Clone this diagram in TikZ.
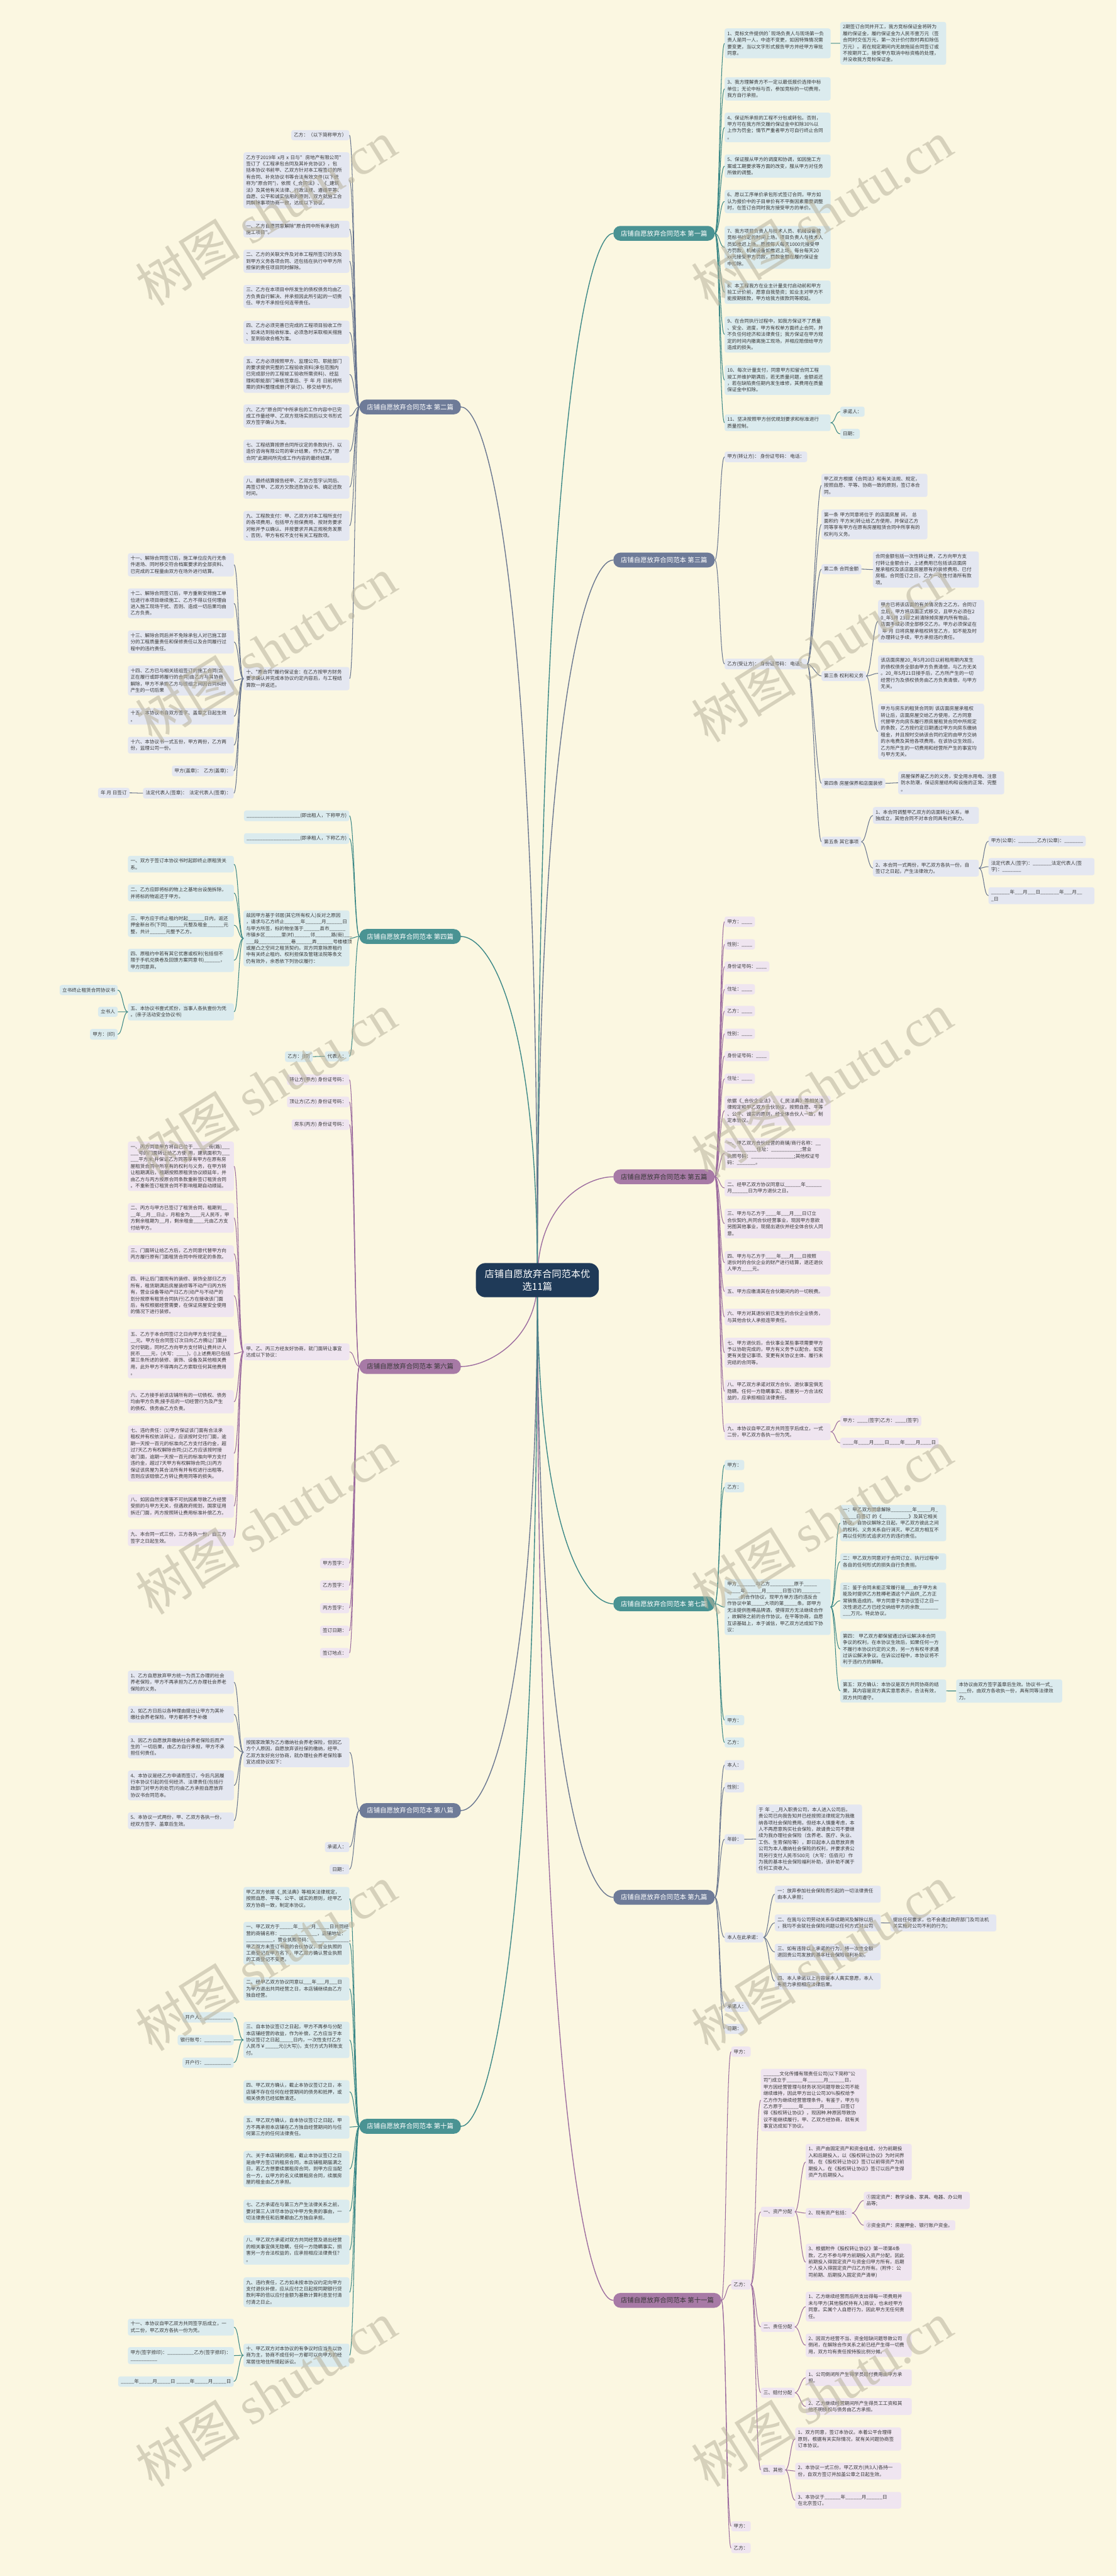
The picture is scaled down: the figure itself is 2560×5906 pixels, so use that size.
\documentclass[tikz,border=0pt]{standalone}
\usepackage{fontspec}
\newfontfamily\cjk{Noto Sans CJK SC}
\newfontfamily\wmserif{Liberation Serif}
\newcommand\lff{\cjk\fontsize{11}{15}\selectfont}
\newcommand\brf{\cjk\fontsize{15}{18}\selectfont}
\newcommand\cef{\cjk\fontsize{22}{30}\selectfont}
\newcommand\wmf{\cjk\fontsize{120}{120}\selectfont}
\definecolor{bg}{HTML}{FBF7E1}
\definecolor{sF}{HTML}{E4E7F1}\definecolor{sL}{HTML}{68758F}\definecolor{sN}{HTML}{6E7B98}
\definecolor{tF}{HTML}{DBEBEE}\definecolor{tL}{HTML}{3A8786}\definecolor{tN}{HTML}{4A9393}
\definecolor{pF}{HTML}{EFE5F0}\definecolor{pL}{HTML}{9C6C9F}\definecolor{pN}{HTML}{A77AA6}
\definecolor{cN}{HTML}{1F3A58}\definecolor{txt}{HTML}{383838}\definecolor{wmc}{HTML}{B8B29C}
\newcommand\conr[3]{\draw[#1] (#2.east) .. controls ([xshift=11pt]#2.east) and ([xshift=-11pt]#3.west) .. (#3.west);}
\newcommand\conl[3]{\draw[#1] (#2.west) .. controls ([xshift=-11pt]#2.west) and ([xshift=11pt]#3.east) .. (#3.east);}
\catcode`\_=12
\tikzset{
 lf/.style={font=\lff, text=txt, align=left, inner xsep=6pt, inner ysep=6.5pt, rounded corners=5pt, anchor=north west},
 S/.style={lf, fill=sF}, T/.style={lf, fill=tF}, P/.style={lf, fill=pF},
 w/.style={text width=231pt},
 ne/.style={anchor=north east},
 cs/.style={draw=sL, line width=1.5pt}, ct/.style={draw=tL, line width=1.5pt}, cp/.style={draw=pL, line width=1.5pt},
 brn/.style={font=\brf, text=white, anchor=west, rounded corners=16pt, minimum height=34pt, inner xsep=17pt, inner ysep=4pt},
 cc/.style={line width=2pt},
 wm/.style={font=\wmf, text=wmc, text opacity=0.55, rotate=32, anchor=base west, inner sep=0pt},
}
\begin{document}
\begin{tikzpicture}[x=1pt,y=-1pt]
\fill[bg] (0,0) rectangle (2560,5906);
\useasboundingbox (0,0) rectangle (2560,5906);
% branch nodes
\node[brn, fill=tN] (b1) at (1406,535) {店铺自愿放弃合同范本 第一篇};
\node[brn, fill=sN] (b3) at (1406,1284) {店铺自愿放弃合同范本 第三篇};
\node[brn, fill=pN, text=txt] (b5) at (1406,2698) {店铺自愿放弃合同范本 第五篇};
\node[brn, fill=tN] (b7) at (1406,3677) {店铺自愿放弃合同范本 第七篇};
\node[brn, fill=sN] (b9) at (1406,4350) {店铺自愿放弃合同范本 第九篇};
\node[brn, fill=pN, text=txt] (b11) at (1406,5274) {店铺自愿放弃合同范本 第十一篇};
\node[brn, fill=sN] (b2) at (824,933) {店铺自愿放弃合同范本 第二篇};
\node[brn, fill=tN] (b4) at (824,2147) {店铺自愿放弃合同范本 第四篇};
\node[brn, fill=pN, text=txt] (b6) at (824,3133) {店铺自愿放弃合同范本 第六篇};
\node[brn, fill=sN] (b8) at (824,4151) {店铺自愿放弃合同范本 第八篇};
\node[brn, fill=tN] (b10) at (824,4875) {店铺自愿放弃合同范本 第十篇};
% center connectors
\coordinate (cc0) at (1232,2935);
\foreach \b/\col/\py in {b1/tL/1015,b3/sL/1614,b5/pL/2757,b7/tL/3529,b9/sL/4067,b11/pL/4806}{
 \draw[cc, draw=\col] (cc0) .. controls (1232,\py) and ([xshift=-60pt]\b.west) .. (\b.west);}
\foreach \b/\col/\py in {b2/sL/1333,b4/tL/2305,b6/pL/3073,b8/sL/3908,b10/tL/4487}{
 \draw[cc, draw=\col] (cc0) .. controls (1232,\py) and ([xshift=60pt]\b.east) .. (\b.east);}
% center
\node[fill=cN, text=white, font=\cef, align=center, rounded corners=22pt, inner xsep=20pt, inner ysep=14pt] (c) at (cc0) {店铺自愿放弃合同范本优\\选11篇};
%%%%%%%%%%%%%%%% Branch 1
\node[T,w] (A1) at (1661,65) {1、竞标文件提供的`现场负责人与现场第一负\\责人是同一人，中途不变更，如因特殊情况需\\要变更，当以文字形式报告甲方并经甲方审批\\同意。};
\node[T,w] (A1a) at (1926,50) {2期签订合同并开工，我方竞标保证金将转为\\履约保证金，履约保证金为人民币壹万元（签\\合同时交伍万元，第一次计价付款时再扣除伍\\万元）。若在规定期间内无故拖延合同签订或\\不按期开工，接受甲方取消中标资格的处理，\\并没收我方竞标保证金。};
\node[T,w] (A2) at (1661,177) {3、我方理解贵方不一定以最低报价选择中标\\单位；无论中标与否，参加竞标的一切费用，\\我方自行承担。};
\node[T,w] (A3) at (1661,258) {4、保证所承担的工程不分包或转包。否则，\\甲方可在我方所交履约保证金中扣除30\%以\\上作为罚金；情节严重者甲方可自行终止合同\\。};
\node[T,w] (A4) at (1661,354) {5、保证服从甲方的调度和协调，如因施工方\\案或工期要求等方面的改变，服从甲方对任务\\所做的调整。};
\node[T,w] (A5) at (1661,435) {6、愿以工序单价承包形式签订合同，甲方如\\认为报价中的子目单价有不平衡因素需要调整\\时，在签订合同时我方接受甲方的单价。};
\node[T,w] (A6) at (1661,518) {7、我方项目负责人与技术人员、机械设备按\\竞标书约定的时间上场。项目负责人与技术人\\员如推迟上场，愿按每人每天1000元接受甲\\方罚款，机械设备如推迟上场，每台每天20\\xx元接受甲方罚款，罚款金额在履约保证金\\中扣除。};
\node[T,w] (A7) at (1661,643) {8、本工程我方在业主计量支付启动前和甲方\\验工计价前，愿意自我垫资；如业主对甲方不\\能按期拨款，甲方给我方拨款同等顺延。};
\node[T,w] (A8) at (1661,725) {9、在合同执行过程中，如我方保证不了质量\\、安全、进度，甲方有权单方面终止合同，并\\不负任何经济和法律责任；我方保证在甲方规\\定的时间内撤离施工现场，并相应赔偿给甲方\\造成的损失。};
\node[T,w] (A9) at (1661,837) {10、每次计量支付，同意甲方扣留合同工程\\竣工并维护期满后，若无质量问题，金额返还\\，若在缺陷责任期内发生维修，其费用在质量\\保证金中扣除。};
\node[T,w] (A10) at (1661,950) {11、坚决按照甲方创优规划要求和标准进行\\质量控制。};
\node[T] (A10a) at (1926,932) {承诺人：};
\node[T] (A10b) at (1926,983) {日期：};
\foreach \n in {A1,A2,A3,A4,A5,A6,A7,A8,A9,A10}{\conr{ct}{b1}{\n}}
\conr{ct}{A1}{A1a}\conr{ct}{A10}{A10a}\conr{ct}{A10}{A10b}
%%%%%%%%%%%%%%%% Branch 3
\node[S] (C1) at (1661,1035) {甲方(转让方)：\ 身份证号码：\ 电话：};
\node[S] (C2) at (1661,1510) {乙方(受让方)：\ 身份证号码：\ 电话：};
\node[S,w] (C2a) at (1883,1086) {甲乙双方根据《合同法》和有关法规、规定，\\按照自愿、平等、协商一致的原则，签订本合\\同。};
\node[S,w] (C2b) at (1883,1168) {第一条 甲方同意将位于 的店面房屋 间， 总\\面积约 平方米)转让给乙方使用，并保证乙方\\同等享有甲方在原有房屋租赁合同中所享有的\\权利与义务。};
\node[S] (C2c) at (1883,1293) {第二条 合同金额};
\node[S,w] (C2c1) at (2001,1264) {合同金额包括一次性转让费，乙方向甲方支\\付转让金额合计，上述费用已包括该店面房\\屋承租权及该店面房屋原有的装修费用、已付\\房租。合同签订之日，乙方一次性付清所有款\\项。};
\node[S] (C2d) at (1883,1538) {第三条 权利和义务};
\node[S,w] (C2d1) at (2013,1375) {甲方已将该店面的有关情况告之乙方。合同订\\立后，甲方将店面正式移交，且甲方必须在2\\0_年5月 23日之前清除掉房屋内所有物品，\\店面手续必须全部移交乙方。甲方必须保证在\\\ 年 月 日将房屋承租权转至乙方，如不能及时\\办理转让手续，甲方承担违约责任。};
\node[S,w] (C2d2) at (2013,1502) {该店面房屋20_年5月20日以前租用期内发生\\的债权债务全部由甲方负责清偿，与乙方无关\\。20_年5月21日接手后，乙方所产生的一切\\经营行为及债权债务由乙方负责清偿，与甲方\\无关。};
\node[S,w] (C2d3) at (2013,1613) {甲方与房东的租赁合同到 该店面房屋承租权\\转让后，店面房屋交给乙方使用，乙方同意\\代替甲方向房东履行原房屋租赁合同中所规定\\的条款，乙方按约定日期通过甲方向房东缴纳\\租金，并且按时交纳该合同约定的由甲方交纳\\的水电费及其他各项费用。在该协议生效后，\\乙方所产生的一切费用和经营所产生的事宜均\\与甲方无关。};
\node[S] (C2e) at (1883,1784) {第四条 房屋保养和店面装修};
\node[S,w] (C2e1) at (2059,1768) {房屋保养是乙方的义务，安全用水用电、注意\\防水防潮，保证房屋结构和设施的正常、完整\\。};
\node[S] (C2f) at (1883,1918) {第五条 其它事项};
\node[S,w] (C2f1) at (2001,1850) {1、本合同调整甲乙双方的店面转让关系，单\\独成立，其他合同不对本合同具有约束力。};
\node[S,w] (C2f2) at (2001,1971) {2、本合同一式两份，甲乙双方各执一份，自\\签订之日起，产生法律效力。};
\node[S] (C2f2a) at (2266,1916) {甲方(公章)：_______乙方(公章)：_______};
\node[S,w] (C2f2b) at (2266,1967) {法定代表人(签字)：_______法定代表人(签\\字)：_______};
\node[S,w] (C2f2c) at (2266,2034) {_______年___月___日_______年___月__\\_日};
\conr{cs}{b3}{C1}\conr{cs}{b3}{C2}
\foreach \n in {C2a,C2b,C2c,C2d,C2e,C2f}{\conr{cs}{C2}{\n}}
\conr{cs}{C2c}{C2c1}\conr{cs}{C2d}{C2d1}\conr{cs}{C2d}{C2d2}\conr{cs}{C2d}{C2d3}
\conr{cs}{C2e}{C2e1}\conr{cs}{C2f}{C2f1}\conr{cs}{C2f}{C2f2}
\conr{cs}{C2f2}{C2f2a}\conr{cs}{C2f2}{C2f2b}\conr{cs}{C2f2}{C2f2c}
%%%%%%%%%%%%%%%% Branch 5
\node[P] (E1) at (1661,2101) {甲方：____};
\node[P] (E2) at (1661,2153) {性别：____};
\node[P] (E3) at (1661,2204) {身份证号码：____};
\node[P] (E4) at (1661,2256) {住址：____};
\node[P] (E5) at (1661,2306) {乙方：____};
\node[P] (E6) at (1661,2358) {性别：____};
\node[P] (E7) at (1661,2409) {身份证号码：____};
\node[P] (E8) at (1661,2461) {住址：____};
\node[P,w] (E9) at (1661,2512) {依据《_合伙企业法》、《_民法典》等相关法\\律规定和甲乙双方合伙协议，按照自愿、平等\\、公平、诚实的原则，经全体合伙人一致，制\\定本协议。};
\node[P,w] (E10) at (1661,2609) {一、甲乙双方合伙经营的商铺/商行名称：__\\___________住址：___________;营业\\执照号码：________________;其他权证号\\码：_______。};
\node[P,w] (E11) at (1661,2704) {二、经甲乙双方协议同意以______年______\\月______日为甲方退伙之日。};
\node[P,w] (E12) at (1661,2771) {三、甲方与乙方于____年___月___日订立\\合伙契约,共同合伙经营事业，现因甲方意欲\\另图其他事业，现提出退伙并经全体合伙人同\\意。};
\node[P,w] (E13) at (1661,2868) {四、甲方与乙方于____年___月___日按照\\退伙时的合伙企业的财产进行结算，退还退伙\\人甲方____元。};
\node[P,w] (E14) at (1661,2949) {五、甲方应缴清其在合伙期间内的一切税费。};
\node[P,w] (E15) at (1661,3000) {六、甲方对其退伙前已发生的合伙企业债务，\\与其他合伙人承担连带责任。};
\node[P,w] (E16) at (1661,3067) {七、甲方退伙后，合伙事业某些事项需要甲方\\予以协助完成的，甲方有义务予以配合，如变\\更有关登记事项、变更有关协议主体、履行未\\完结的合同等。};
\node[P,w] (E17) at (1661,3163) {八、甲乙双方承诺对双方合伙、退伙事宜俱无\\隐瞒。任何一方隐瞒事实，损害另一方合法权\\益的，应承担相应法律责任。};
\node[P,w] (E18) at (1661,3263) {九、本协议自甲乙双方共同签字后成立，一式\\二份，甲乙双方各执一份为凭。};
\node[P] (E18a) at (1926,3245) {甲方：____(签字)乙方：____(签字)};
\node[P] (E18b) at (1926,3296) {____年____月____日____年____月____日};
\foreach \n in {E1,E2,E3,E4,E5,E6,E7,E8,E9,E10,E11,E12,E13,E14,E15,E16,E17,E18}{\conr{cp}{b5}{\n}}
\conr{cp}{E18}{E18a}\conr{cp}{E18}{E18b}
%%%%%%%%%%%%%%%% Branch 7
\node[T] (G1) at (1661,3347) {甲方：};
\node[T] (G2) at (1661,3398) {乙方：};
\node[T,w] (G3) at (1661,3620) {甲方_______与乙方_________原于_____\\_____年______月______日签订的_______\\_____的合作协议，现甲方单方违约违反合\\作协议中第_____大项的第_____条。即甲方\\无法提供胜樽品牌酒，使得双方无法继续合作\\，故解除之前的合作协议。在平等协商，自愿\\互谅基础上，本于诚信，甲乙双方达成如下协\\议：};
\node[T,w] (G3a) at (1926,3450) {一：甲乙双方同意解除________年_____月_\\_____日签订 的《__________》及其它相关\\协议。自协议解除之日起，甲乙双方彼此之间\\的权利、义务关系自行消灭。甲乙双方相互不\\再以任何形式追求对方的违约责任。};
\node[T,w] (G3b) at (1926,3561) {二：甲乙双方同意对于合同订立、执行过程中\\各自的任何形式的损失自行负责担。};
\node[T,w] (G3c) at (1926,3628) {三：鉴于合同未能正常履行是___由于甲方未\\能及时提供乙方胜樽老酒这个产品供_乙方正\\常销售造成的。甲方同意于本协议签订之日一\\次性退还乙方已经交纳给甲方的余款_______\\___万元。特此协议。};
\node[T,w] (G3d) at (1926,3739) {第四： 甲乙双方都保留通过诉讼解决本合同\\争议的权利，在本协议生效后，如果任何一方\\不履行本协议约定的义务，另一方有权寻求通\\过诉讼解决争议。在诉讼过程中，本协议将不\\利于违约方的解释。};
\node[T,w] (G3e) at (1926,3850) {第五：双方确认：本协议是双方共同协商的结\\果，其内容是双方真实意思表示，合法有效，\\双方共同遵守。};
\node[T,w] (G3e1) at (2192,3850) {本协议由双方签字盖章后生效。协议书一式_\\___份，由双方各收执一份，具有同等法律效\\力。};
\node[T] (G4) at (1661,3932) {甲方：};
\node[T] (G5) at (1661,3983) {乙方：};
\foreach \n in {G1,G2,G3,G4,G5}{\conr{ct}{b7}{\n}}
\foreach \n in {G3a,G3b,G3c,G3d,G3e}{\conr{ct}{G3}{\n}}
\conr{ct}{G3e}{G3e1}
%%%%%%%%%%%%%%%% Branch 9
\node[S] (I1) at (1661,4035) {本人：};
\node[S] (I2) at (1661,4086) {性别：};
\node[S] (I3) at (1661,4205) {年龄：};
\node[S,w] (I3a) at (1733,4137) {于 年 _ _月入职贵公司，本人进入公司后，\\贵公司已向我告知并已经按照法律规定为我缴\\纳各项社会保险费用。但经本人慎重考虑，本\\人不再愿意购买社会保险，故请贵公司不要继\\续为我办理社会保险（含养老、医疗、失业、\\工伤、生育保险等），即日起本人自愿放弃贵\\公司为本人缴纳社会保险的权利，并要求贵公\\司另行支付人民币500元（大写：伍佰元）作\\为我的基本社会保险福利补助，该补助不属于\\任何工资收入。};
\node[S] (I4) at (1661,4430) {本人在此承诺：};
\node[S,w] (I4a) at (1776,4323) {一：放弃参加社会保险而引起的一切法律责任\\由本人承担；};
\node[S,w] (I4b) at (1776,4389) {二、在我与公司劳动关系存续期间及解除以后\\，我均不会就社会保险问题以任何方式对公司};
\node[S,w] (I4b1) at (2041,4389) {提出任何要求，也不会通过政府部门及司法机\\关实施对公司不利的行为；};
\node[S,w] (I4c) at (1776,4456) {三、如有违背以上承诺的行为，将一次性全额\\退回贵公司发放的基本社会保险福利补助。};
\node[S,w] (I4d) at (1776,4523) {四、本人承诺以上内容是本人真实意愿，本人\\有能力承担相应法律后果。};
\node[S] (I5) at (1661,4589) {承诺人：};
\node[S] (I6) at (1661,4640) {日期：};
\foreach \n in {I1,I2,I3,I4,I5,I6}{\conr{cs}{b9}{\n}}
\conr{cs}{I3}{I3a}
\foreach \n in {I4a,I4b,I4c,I4d}{\conr{cs}{I4}{\n}}
\conr{cs}{I4b}{I4b1}
%%%%%%%%%%%%%%%% Branch 11
\node[P] (K1) at (1676,4692) {甲方：};
\node[P] (K2) at (1676,5226) {乙方：};
\node[P,w] (K2a) at (1744,4743) {______文化传播有限责任公司(以下简称"公\\司")成立于______年______月______日，\\甲方因经营管理与财务状况问题导致公司不能\\继续维持，因此甲方出让公司30\%股权给予\\乙方作为继续经营管理条件。有鉴于，甲方与\\乙方原于______年______月______日签订\\得《股权转让协议》，现因种.种原因导致协\\议不能继续履行，甲、乙双方经协商，就有关\\事宜达成如下协议。};
\node[P] (K2b) at (1744,5059) {一、资产分配};
\node[P,w] (K2b1) at (1847,4915) {1、资产由固定资产和资金组成，分为前期投\\入和后期投入，以《股权转让协议》为时间界\\限，在《股权转让协议》签订以前得资产为前\\期投入，在《股权转让协议》签订以后产生得\\资产为后期投入。};
\node[P] (K2b2) at (1847,5062) {2、现有资产包括：};
\node[P,w] (K2b2a) at (1980,5025) {①固定资产：教学设备、家具、电器、办公用\\品等;};
\node[P] (K2b2b) at (1980,5090) {②资金资产：房屋押金、银行账户资金。};
\node[P,w] (K2b3) at (1847,5144) {3、根据附件《股权转让协议》第一项第4条\\款，乙方不参与甲方前期投入资产分配，因此\\前期投入得固定资产与资金归甲方所有，后期\\个人投入得固定资产归乙方所有。(附件：公\\司前期、后期投入固定资产清单)};
\node[P] (K2c) at (1744,5323) {二、责任分配};
\node[P,w] (K2c1) at (1847,5254) {1、乙方继续经营而后所支出得每一项费用并\\未与甲方(其他股权持有人)商议，也未经甲方\\同意。实属个人自愿行为，因此甲方无任何责\\任。};
\node[P,w] (K2c2) at (1847,5350) {2、因双方经营不当、资金短缺问题导致公司\\倒闭，在解除合作关系之前已经产生得一切费\\用，双方均有责任按持股比例分摊。};
\node[P] (K2d) at (1744,5474) {三、赔付分配};
\node[P,w] (K2d1) at (1847,5432) {1、公司倒闭所产生得学员赔付费用由甲方承\\担。};
\node[P,w] (K2d2) at (1847,5498) {2、乙方继续经营期间所产生得员工工资和其\\他不明债权与债务由乙方承担。};
\node[P] (K2e) at (1744,5651) {四、其他};
\node[P,w] (K2e1) at (1823,5565) {1、双方同意，签订本协议。本着公平合理得\\原则，根据有关实际情况，就有关问题协商签\\订本协议。};
\node[P,w] (K2e2) at (1823,5646) {2、本协议一式三份，甲乙双方(共3人)各持一\\份，自双方签订并加盖公章之日起生效。};
\node[P,w] (K2e3) at (1823,5713) {3、本协议于______年______月______日\\在北京签订。};
\node[P] (K3) at (1676,5780) {甲方：};
\node[P] (K4) at (1676,5830) {乙方：};
\foreach \n in {K1,K2,K3,K4}{\conr{cp}{b11}{\n}}
\foreach \n in {K2a,K2b,K2c,K2d,K2e}{\conr{cp}{K2}{\n}}
\foreach \n in {K2b1,K2b2,K2b3}{\conr{cp}{K2b}{\n}}
\conr{cp}{K2b2}{K2b2a}\conr{cp}{K2b2}{K2b2b}
\conr{cp}{K2c}{K2c1}\conr{cp}{K2c}{K2c2}
\conr{cp}{K2d}{K2d1}\conr{cp}{K2d}{K2d2}
\foreach \n in {K2e1,K2e2,K2e3}{\conr{cp}{K2e}{\n}}
%%%%%%%%%%%%%%%% Branch 2 (left)
\node[S,ne] (B1) at (801,298) {乙方：（以下简称甲方）};
\node[S,w] (B2) at (558,349) {乙方于2019年 x月 x 日与"\ \ 房地产有限公司"\\签订了《工程承包合同及其补充协议》，包\\括本协议书前甲、乙双方针对本工程签订的所\\有合同、补充协议书等合法有效文件(以下统\\称为"原合同")，依照《_合同法》、《_建筑\\法》及其他有关法律、行政法规、遵循平等、\\自愿、公平和诚实信用的原则，双方就施工合\\同解除事项协商一致，达成以下协议。};
\node[S,w] (B3) at (558,506) {一、乙方自愿同意解除"原合同中所有承包的\\施工项目"。};
\node[S,w] (B4) at (558,572) {二、乙方的关联文件及对本工程所签订的涉及\\到甲方义务各项合同、还包括在执行中甲方所\\担保的责任项目同时解除。};
\node[S,w] (B5) at (558,653) {三、乙方在本项目中所发生的债权债务均由乙\\方负责自行解决、并承担因此所引起的一切责\\任、甲方不承担任何连带责任。};
\node[S,w] (B6) at (558,735) {四、乙方必须完善已完成的工程项目验收工作\\、如未达到验收标准、必须急时采取相关措施\\、至到验收合格为准。};
\node[S,w] (B7) at (558,816) {五、乙方必须按照甲方、监理公司、职能部门\\的要求提供完整的工程验收资料(承包范围内\\已完成部分的工程竣工验收所需资料)、经监\\理和职能部门审核签章后、于 年 月 日前将所\\需的资料整理成册(不装订)、移交给甲方。};
\node[S,w] (B8) at (558,927) {六、乙方"原合同"中所承包的工作内容中已完\\成工作量经甲、乙双方现场实测后以文书形式\\双方签字确认为准。};
\node[S,w] (B9) at (558,1008) {七、工程结算按原合同所议定的条款执行、以\\造价咨询有限公司的审计结果，作为乙方"原\\合同"此期间所完成工作内容的最终结算。};
\node[S,w] (B10) at (558,1090) {八、最终结算报告经甲、乙双方签字认同后、\\再签订甲、乙双方欠款还款协议书、确定还款\\时间。};
\node[S,w] (B11) at (558,1171) {九、工程款支付：甲、乙双方对本工程所支付\\的各项费用，包括甲方担保费用、按财务要求\\对帐并予以确认、并按要求开具正规税务发票\\、否则，甲方有权不支付有关工程款项。};
\node[S,w] (B12) at (558,1529) {十、"原合同"履约保证金：在乙方按甲方财务\\要求确认并完成本协议约定内容后，与工程结\\算款一并返还。};
\node[S,w] (B12a) at (293,1268) {十一、解除合同签订后，施工单位应先行无条\\件退场、同时移交符合档案要求的全部资料、\\已完成的工程量由双方在场外进行结算。};
\node[S,w] (B12b) at (293,1349) {十二、解除合同签订后，甲方重新安排施工单\\位进行本项目继续施工、乙方不得以任何理由\\进入施工现场干扰、否则、造成一切后果均由\\乙方负责。};
\node[S,w] (B12c) at (293,1445) {十三、解除合同后并不免除承包人对已施工部\\分的工程质量责任和保修责任以及合同履行过\\程中的违约责任。};
\node[S,w] (B12d) at (293,1526) {十四、乙方已与相关班组签订的施工合同(含\\正在履行或即将履行的合同)由乙方与其协商\\解除，甲方不承担乙方与班组之间因合同纠纷\\产生的一切后果};
\node[S,w] (B12e) at (293,1623) {十五、本协议书自双方签字、盖章之日起生效\\。};
\node[S,w] (B12f) at (293,1689) {十六、本协议书一式五份，甲方两份，乙方两\\份，监理公司一份。};
\node[S,ne] (B12g) at (536,1755) {甲方(盖章)：\ \ 乙方(盖章)：};
\node[S,ne] (B12h) at (536,1806) {法定代表人(签章)：\ \ 法定代表人(签章)：};
\node[S,ne] (B12h1) at (297,1806) {年 月 日签订};
\foreach \n in {B1,B2,B3,B4,B5,B6,B7,B8,B9,B10,B11,B12}{\conl{cs}{b2}{\n}}
\foreach \n in {B12a,B12b,B12c,B12d,B12e,B12f,B12g,B12h}{\conl{cs}{B12}{\n}}
\conl{cs}{B12h}{B12h1}
%%%%%%%%%%%%%%%% Branch 4 (left)
\node[T,ne] (D1) at (801,1858) {____________________(即出租人，下称甲方)};
\node[T,ne] (D2) at (801,1910) {____________________(即承租人，下称乙方)};
\node[T,w] (D3) at (558,2087) {兹因甲方基于邻居(其它所有权人)反对之原因\\，请求与乙方终止______年______月______日\\与甲方所签，标的物坐落于______县市______\\市镇乡区______里(村)______邻______路(街)___\\___段____________巷______弄______号楼楼顶\\或屋凸之空间之租赁契约。双方同意除原租约\\中有关终止租约、权利担保及管辖法院等条文\\仍有效外，余悉依下列协议履行：};
\node[T,w] (D3a) at (293,1962) {一、双方于签订本协议书时起即终止原租赁关\\系。};
\node[T,w] (D3b) at (293,2028) {二、乙方应即将标的物上之基地台设施拆除，\\并将标的物返还于甲方。};
\node[T,w] (D3c) at (293,2094) {三、甲方应于终止租约时起______日内，返还\\押金新台币(下同)______元整及租金______元\\整，共计______元整予乙方。};
\node[T,w] (D3d) at (293,2175) {四、原租约中若有其它优惠或权利(包括但不\\限于手机兑换卷及回馈方案同意书)______，\\甲方同意弃。};
\node[T,w] (D3e) at (293,2300) {五、本协议书壹式贰份，当事人各执壹份为凭\\。(亲子活动安全协议书)};
\node[T,ne] (D3e1) at (270,2258) {立书终止租赁合同协议书};
\node[T,ne] (D3e2) at (270,2308) {立书人};
\node[T,ne] (D3e3) at (270,2359) {甲方：(印)};
\node[T,ne] (D4) at (801,2410) {代表人：};
\node[T,ne] (D4a) at (717,2410) {乙方：(印)};
\foreach \n in {D1,D2,D3,D4}{\conl{ct}{b4}{\n}}
\foreach \n in {D3a,D3b,D3c,D3d,D3e}{\conl{ct}{D3}{\n}}
\foreach \n in {D3e1,D3e2,D3e3}{\conl{ct}{D3e}{\n}}
\conl{ct}{D4}{D4a}
%%%%%%%%%%%%%%%% Branch 6 (left)
\node[P,ne] (F1) at (801,2463) {转让方(甲方) 身份证号码：};
\node[P,ne] (F2) at (801,2514) {顶让方(乙方) 身份证号码：};
\node[P,ne] (F3) at (801,2566) {房东(丙方) 身份证号码：};
\node[P,w] (F4) at (558,3080) {甲、乙、丙三方经友好协商，就门面转让事宜\\达成以下协议：};
\node[P,w] (F4a) at (293,2617) {一、丙方同意甲方将自己位于______街(路)___\\___号的门面转让给乙方使 用，建筑面积为___\\___平方米;并保证乙方同等享有甲方在原有房\\屋租赁合同中所享有的权利与义务，在甲方转\\让租期满后，租期按照原租赁协议顺延年，并\\由乙方与丙方按原合同条款重新签订租赁合同\\。不重新签订租赁合同不影响租期自动顺延。};
\node[P,w] (F4b) at (293,2758) {二、丙方与甲方已签订了租赁合同，租期到__\\__年__月__日止，月租金为____元人民币，甲\\方剩余租期为__月，剩余租金____元由乙方支\\付给甲方。};
\node[P,w] (F4c) at (293,2855) {三、门面转让给乙方后，乙方同意代替甲方向\\丙方履行原有门面租赁合同中所规定的条款。};
\node[P,w] (F4d) at (293,2921) {四、转让后门面现有的装修、装饰全部归乙方\\所有，租赁期满后房屋装修等不动产归丙方所\\有，营业设备等动产归乙方(动产与不动产的\\划分按原有租赁合同执行)乙方在接收该门面\\后，有权根据经营需要，在保证房屋安全使用\\的情况下进行装修。};
\node[P,w] (F4e) at (293,3047) {五、乙方于本合同签订之日向甲方支付定金__\\__元。甲方在合同签订次日向乙方腾让门面并\\交付钥匙，同时乙方向甲方支付转让费共计人\\民币____元，(大写：____)，()上述费用已包括\\第三条所述的装修、装饰、设备及其他相关费\\用，此外甲方不得再向乙方索取任何其他费用\\。};
\node[P,w] (F4f) at (293,3187) {六、乙方接手前该店铺所有的一切债权、债务\\均由甲方负责;接手后的一切经营行为及产生\\的债权、债务由乙方负责。};
\node[P,w] (F4g) at (293,3268) {七、违约责任：(1)甲方保证该门面有合法承\\租权并有权依法转让，应该按时交付门面，逾\\期一天按一百元的标准向乙方支付违约金，超\\过7天乙方有权解除合同;(2)乙方应该按时接\\收门面，逾期一天按一百元的标准向甲方支付\\违约金，超过7天甲方有权解除合同;(3)丙方\\保证该房屋为其合法所有并有权进行出租等，\\否则应该赔偿乙方转让费用同等的损失。};
\node[P,w] (F4h) at (293,3426) {八、如因自然灾害等不可抗因素导致乙方经营\\受损的与甲方无关，但遇政府规划，国家征用\\拆迁门面，丙方按照转让费用标准补偿乙方。};
\node[P,w] (F4i) at (293,3506) {九、本合同一式三份，三方各执一份，自三方\\签字之日起生效。};
\node[P,ne] (F5) at (801,3572) {甲方签字：};
\node[P,ne] (F6) at (801,3623) {乙方签字：};
\node[P,ne] (F7) at (801,3675) {丙方签字：};
\node[P,ne] (F8) at (801,3727) {签订日期：};
\node[P,ne] (F9) at (801,3778) {签订地点：};
\foreach \n in {F1,F2,F3,F4,F5,F6,F7,F8,F9}{\conl{cp}{b6}{\n}}
\foreach \n in {F4a,F4b,F4c,F4d,F4e,F4f,F4g,F4h,F4i}{\conl{cp}{F4}{\n}}
%%%%%%%%%%%%%%%% Branch 8 (left)
\node[S,w] (H1) at (558,3983) {按国家政策为乙方缴纳社会养老保险，但因乙\\方个人原因，自愿放弃该社保的缴纳，经甲、\\乙双方友好充分协商，就办理社会养老保险事\\宜达成协议如下：};
\node[S,w] (H1a) at (293,3830) {1、乙方自愿放弃甲方统一为员工办理的社会\\养老保险，甲方不再承担为乙方办理社会养老\\保险的义务。};
\node[S,w] (H1b) at (293,3911) {2、如乙方日后以各种理由提出让甲方为其补\\缴社会养老保险，甲方都将不予补缴};
\node[S,w] (H1c) at (293,3978) {3、因乙方自愿放弃缴纳社会养老保险后而产\\生的`一切后果，由乙方自行承担，甲方不承\\担任何责任。};
\node[S,w] (H1d) at (293,4059) {4、本协议是经乙方申请而签订，今后凡因履\\行本协议引起的任何经济、法律责任(包括行\\政部门对甲方的处罚)均由乙方承担自愿放弃\\协议书合同范本。};
\node[S,w] (H1e) at (293,4155) {5、本协议一式两份，甲、乙双方各执一份，\\经双方签字、盖章后生效。};
\node[S,ne] (H2) at (801,4223) {承诺人：};
\node[S,ne] (H3) at (801,4274) {日期：};
\foreach \n in {H1,H2,H3}{\conl{cs}{b8}{\n}}
\foreach \n in {H1a,H1b,H1c,H1d,H1e}{\conl{cs}{H1}{\n}}
%%%%%%%%%%%%%%%% Branch 10 (left)
\node[T,w] (J1) at (558,4326) {甲乙双方依据《_民法典》等相关法律规定，\\按照自愿、平等、公平、诚实的原则，经甲乙\\双方协商一致，制定本协议。};
\node[T,w] (J2) at (558,4406) {一、甲乙双方于_____年_____月_____日共同经\\营的商铺名称：______________，店铺地址：\\__________，营业执照号码：______________，\\甲乙双方未签订书面的合伙协议，营业执照的\\工商登记在甲方名下，甲乙双方确认营业执照\\的工商登记不变更。};
\node[T,w] (J3) at (558,4533) {二、经甲乙双方协议同意以___年___月___日\\为甲方退出共同经营之日，本店铺继续由乙方\\独自经营。};
\node[T,w] (J4) at (558,4635) {三、自本协议签订之日起，甲方不再参与分配\\本店铺经营的收益，作为补偿，乙方应当于本\\协议签订之日起_____日内，一次性支付乙方\\人民币￥_____元((大写))，支付方式为转账支\\付。};
\node[T,ne] (J4a) at (536,4613) {开户人：__________};
\node[T,ne] (J4b) at (536,4665) {银行账号：__________};
\node[T,ne] (J4c) at (536,4717) {开户行：__________};
\node[T,w] (J5) at (558,4769) {四、甲乙双方确认，截止本协议签订之日，本\\店铺不存在任何在经营期间的债务和抵押，或\\相关债务已经如数清还。};
\node[T,w] (J6) at (558,4850) {五、甲乙双方确认，自本协议签订之日起，甲\\方不再承担本店铺在乙方独自经营期间的与任\\何第三方的任何法律责任。};
\node[T,w] (J7) at (558,4931) {六、关于本店铺的房租，截止本协议签订之日\\是由甲方签订的租房合同，本店铺租期届满之\\日，若乙方想要续展租房合同，则甲方应当配\\合一方，以甲方的名义续展租房合同，续展房\\屋的租金由乙方承担。};
\node[T,w] (J8) at (558,5043) {七、乙方承诺在与第三方产生法律关系之前，\\要对第三人详尽本协议中甲方免责的事由，一\\切法律责任和后果都由乙方独自承担。};
\node[T,w] (J9) at (558,5124) {八、甲乙双方承诺对双方共同经营及退出经营\\的相关事宜俱无隐瞒，任何一方隐瞒事实，损\\害另一方合法权益的，应承担相应法律责任？\\。};
\node[T,w] (J10) at (558,5221) {九、违约责任，乙方如未按本协议约定向甲方\\支付退伙补偿，应从应付之日起按同期银行贷\\款利率的倍以应付金额为基数计算利息至付清\\付清之日止。};
\node[T,w] (J11) at (558,5373) {十、甲乙双方对本协议的有争议时应当先以协\\商为主，协商不成任何一方都可以向甲方的经\\常居住地住所提起诉讼。};
\node[T,w] (J11a) at (293,5316) {十一、本协议自甲乙双方共同签字后成立，一\\式二份，甲乙双方各执一份为凭。};
\node[T,w] (J11b) at (293,5381) {甲方(签字捺印)：__________乙方(签字捺印)：\\__________};
\node[T,ne] (J11c) at (536,5448) {_____年_____月_____日 _____年_____月_____日};
\foreach \n in {J1,J2,J3,J4,J5,J6,J7,J8,J9,J10,J11}{\conl{ct}{b10}{\n}}
\foreach \n in {J4a,J4b,J4c}{\conl{ct}{J4}{\n}}
\foreach \n in {J11a,J11b,J11c}{\conl{ct}{J11}{\n}}
%%%%%%%%%%%%%%%% watermarks
\foreach \k in {0,...,5}{
 \node[wm] (wl\k) at (350,{705+1000*\k}) {树图 {\wmserif shutu.cn}};
 \node[wm] (wr\k) at (1624,{705+1000*\k}) {树图 {\wmserif shutu.cn}};
}
\end{tikzpicture}
\end{document}
